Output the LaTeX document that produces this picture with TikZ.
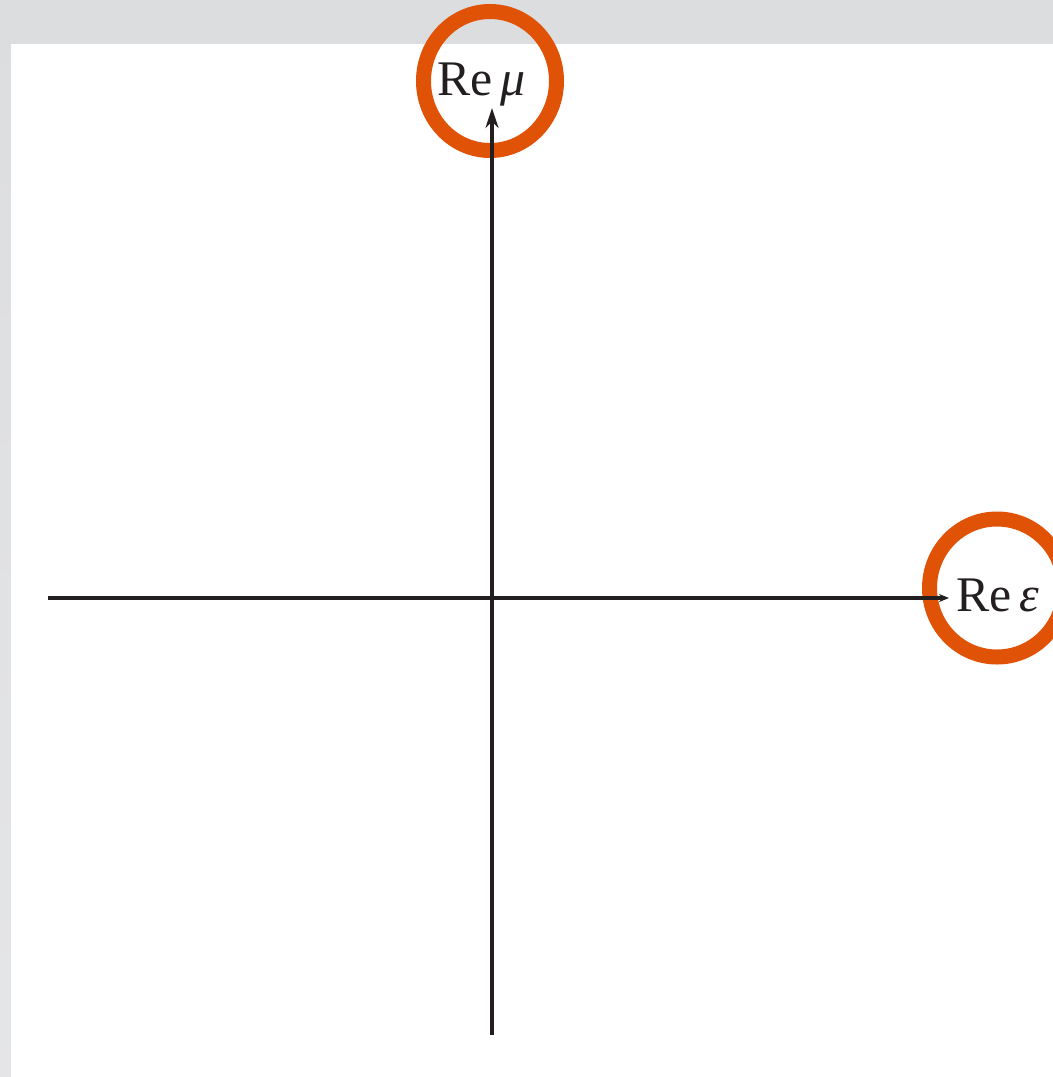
\documentclass[tikz,border=0pt]{standalone}
\usepackage{fontspec}
\setmainfont{Liberation Serif}
\usetikzlibrary{arrows.meta,shapes.geometric}
\definecolor{ringorange}{RGB}{224,82,6}
\definecolor{axisgray}{RGB}{35,31,32}
\definecolor{framegray}{RGB}{220,221,223}
\begin{document}
\begin{tikzpicture}[x=1bp,y=-1bp,
  ring/.style={ellipse,draw=ringorange,line width=15bp,inner sep=0pt},
  axislabel/.style={inner sep=0pt,anchor=base west,text=axisgray,font=\fontsize{50}{54}\selectfont},
  axisline/.style={draw=axisgray,line width=3.2bp}]
\useasboundingbox (0,0) rectangle (1053,1077);
\shade[top color=framegray,bottom color=framegray!75!white] (0,0) rectangle (1053,1077);
\fill[white] (11,44) rectangle (1053,1077);
% rings
\node[ring,minimum width=133bp,minimum height=139bp] (muring) at (490,81) {};
\node[ring,minimum width=135bp,minimum height=138bp] (epsring) at (997,588) {};
% axes
\coordinate (xstart) at (48,598);
\coordinate (xend) at (949,598);
\coordinate (ystart) at (492,1035);
\coordinate (yend) at (492,108);
\draw[axisline,-{Stealth[length=10bp,width=8bp]}] (xstart) -- (xend);
\draw[axisline,-{Stealth[length=20bp,width=13bp]}] (ystart) -- (yend);
% labels
\node[axislabel] (mulabel) at (437,95) {Re\,{\itshape μ}};
\node[axislabel] (epslabel) at (956,611) {Re\,{\itshape ε}};
\end{tikzpicture}
\end{document}
